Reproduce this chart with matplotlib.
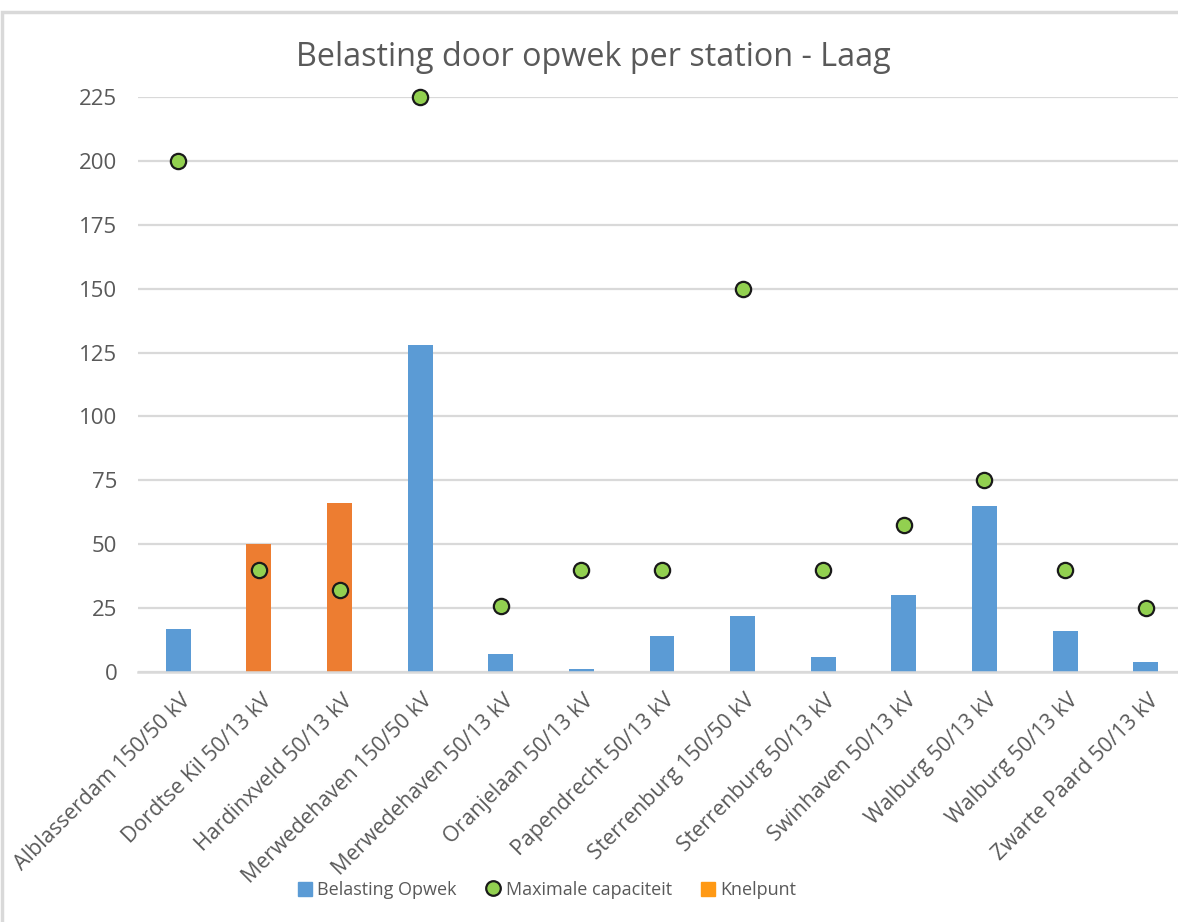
import matplotlib.pyplot as plt
from matplotlib.patches import Rectangle
from matplotlib.lines import Line2D
from matplotlib.transforms import ScaledTranslation

stations = ["Alblasserdam 150/50 kV", "Dordtse Kil 50/13 kV", "Hardinxveld 50/13 kV",
            "Merwedehaven 150/50 kV", "Merwedehaven 50/13 kV", "Oranjelaan 50/13 kV",
            "Papendrecht 50/13 kV", "Sterrenburg 150/50 kV", "Sterrenburg 50/13 kV",
            "Swinhaven 50/13 kV", "Walburg 50/13 kV", "Walburg 50/13 kV",
            "Zwarte Paard 50/13 kV"]
belasting = [17, 50, 66, 128, 7, 1, 14, 22, 6, 30, 65, 16, 4]
max_cap = [200, 40, 32, 225, 26, 40, 40, 150, 40, 57.5, 75, 40, 25]
knelpunt = [False, True, True, False, False, False, False, False, False, False, False, False, False]

blue = "#5B9BD5"
orange = "#ED7D31"
green = "#92D050"
txt = "#595959"
grid = "#D9D9D9"

plt.rcParams['font.family'] = ['Open Sans', 'DejaVu Sans']

fig = plt.figure(figsize=(11.78, 9.22), dpi=100)
W, H = 1178, 922
# chart frame (cropped at the right/bottom)
fig.patches.append(Rectangle((2 / W, -0.1), 1.2, (H - 12) / H + 0.1, transform=fig.transFigure,
                             fill=False, edgecolor=grid, linewidth=2.5))

ax = fig.add_axes([138 / W, 250 / H, 1048 / W, 575 / H])
x = range(len(stations))
colors = [orange if k else blue for k in knelpunt]
ax.bar(x, belasting, width=0.31, color=colors, zorder=2)
ax.plot(x, max_cap, linestyle="none", marker="o", markersize=11, markerfacecolor=green,
        markeredgecolor="#1a1a1a", markeredgewidth=1.6, zorder=3, clip_on=False)

ax.set_xlim(-0.5, len(stations) - 0.5)
ax.set_ylim(0, 225)
ax.set_yticks(range(0, 226, 25))
ax.yaxis.grid(True, color=grid, linewidth=1.6, zorder=0)
ax.set_axisbelow(True)
for s in ["top", "right", "left"]:
    ax.spines[s].set_visible(False)
ax.spines["bottom"].set_color(grid)
ax.spines["bottom"].set_linewidth(1.8)
ax.tick_params(axis="y", length=0, colors=txt, labelsize=16, pad=15)
ax.set_xticks(list(x))
ax.set_xticklabels(stations, rotation=45, ha="right", rotation_mode="anchor")
ax.tick_params(axis="x", length=0, colors=txt, labelsize=15.4, pad=13)
shift = ScaledTranslation(2 / 100, 0, fig.dpi_scale_trans)
for lab in ax.get_xticklabels():
    lab.set_transform(lab.get_transform() + shift)

fig.text(593 / W, 1 - 57 / H, "Belasting door opwek per station - Laag", ha="center", va="center",
         fontsize=23.3, color=txt)

handles = [Rectangle((0, 0), 1, 1, color=blue),
           Line2D([], [], linestyle="none", marker="o", markersize=10.5, markerfacecolor=green,
                  markeredgecolor="#1a1a1a", markeredgewidth=1.6),
           Rectangle((0, 0), 1, 1, color="#FF9914")]
fig.legend(handles, ["Belasting Opwek", "Maximale capaciteit", "Knelpunt"], loc="center",
           bbox_to_anchor=(547 / W, 1 - 890 / H), ncol=3, frameon=False, fontsize=13,
           labelcolor=txt, handlelength=0.8, handleheight=0.8, handletextpad=0.3, columnspacing=1.6)

fig.savefig("out.png", dpi=100)
